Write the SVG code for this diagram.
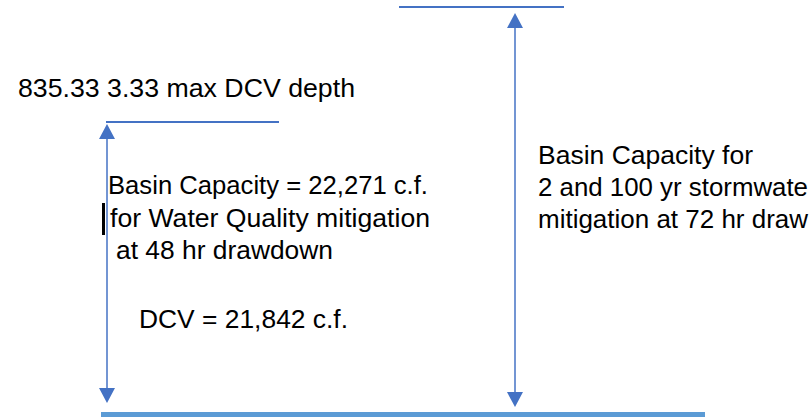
<svg xmlns="http://www.w3.org/2000/svg" width="810" height="417" viewBox="0 0 810 417">
<defs>
<style>
.t{font-family:"Liberation Sans",Arial,sans-serif;font-size:25px;fill:#000}
.lvl{stroke:#4472c4;stroke-width:2;fill:none}
.shaft{stroke:#4472c4;stroke-width:1.5;fill:none}
.head{fill:#4472c4}
</style>
</defs>
<rect width="810" height="417" fill="#fff"/>
<g id="level-top-left"><line class="lvl" x1="106" y1="122" x2="279" y2="122"/></g>
<g id="level-top-right"><line class="lvl" x1="399" y1="7" x2="564" y2="7"/></g>
<g id="level-bottom"><rect x="101" y="412" width="604" height="5" fill="#5b9bd5"/></g>
<g id="label-depth"><text class="t" x="18" y="97" textLength="337" lengthAdjust="spacingAndGlyphs">835.33 3.33 max DCV depth</text></g>
<g id="label-wq">
<text class="t" x="108" y="194" textLength="320" lengthAdjust="spacingAndGlyphs">Basin Capacity = 22,271 c.f.</text>
<text class="t" x="110" y="227" textLength="320" lengthAdjust="spacingAndGlyphs">for Water Quality mitigation</text>
<text class="t" x="116" y="259" textLength="217" lengthAdjust="spacingAndGlyphs">at 48 hr drawdown</text>
<text class="t" x="139" y="328" textLength="209" lengthAdjust="spacingAndGlyphs">DCV = 21,842 c.f.</text>
<rect x="102" y="203" width="3" height="32" fill="#000"/>
</g>
<g id="label-storm">
<text class="t" x="538" y="164" textLength="215" lengthAdjust="spacingAndGlyphs">Basin Capacity for</text>
<text class="t" x="538" y="196" textLength="270" lengthAdjust="spacingAndGlyphs">2 and 100 yr stormwate</text>
<text class="t" x="538" y="228" textLength="270" lengthAdjust="spacingAndGlyphs">mitigation at 72 hr draw</text>
</g>
<g id="connectors">
<line class="shaft" x1="107" y1="138" x2="107" y2="389"/>
<polygon class="head" points="107,124 99,139 115,139"/>
<polygon class="head" points="107,403 99,388 115,388"/>
<line class="shaft" x1="515" y1="27" x2="515" y2="393"/>
<polygon class="head" points="515,13 507,28 523,28"/>
<polygon class="head" points="515,407 507,392 523,392"/>
</g>
</svg>
